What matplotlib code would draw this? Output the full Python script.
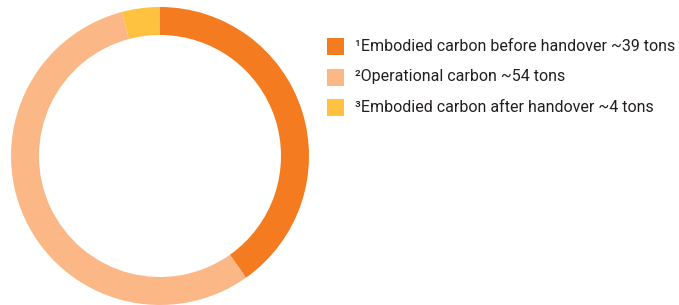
import matplotlib
matplotlib.use("Agg")
import matplotlib.pyplot as plt
from matplotlib.patches import Rectangle

labels = ["¹Embodied carbon before handover ~39 tons",
          "²Operational carbon ~54 tons",
          "³Embodied carbon after handover ~4 tons"]
values = [39, 54, 4]
colors = ["#F47B20", "#FBB886", "#FFC240"]

W, H = 679, 305
fig = plt.figure(figsize=(W/100, H/100), dpi=100)
ax = fig.add_axes([11/W, 0/H, 298/W, 298/H])
ax.pie(values, colors=colors, startangle=90, counterclock=False, radius=1,
       wedgeprops=dict(width=28/149, linewidth=0))
ax.set_xlim(-1, 1)
ax.set_ylim(-1, 1)
ax.set_aspect('equal')
ax.axis('off')

font = ['Roboto', 'DejaVu Sans']
y0, dy = 46.5, 30.5
texts = []
for i, (lab, c) in enumerate(zip(labels, colors)):
    yc = y0 + i*dy
    fig.patches.append(Rectangle((327/W, 1 - (yc+8.5)/H), 17/W, 17/H,
                                 transform=fig.transFigure, facecolor=c,
                                 edgecolor='none'))
    texts.append(fig.text(355/W, 1 - yc/H, lab, ha='left', va='center',
                          fontsize=12, color='#231F20', family=font))

# fit first line width to the reference (~320 px)
r = fig.canvas.get_renderer()
w = texts[0].get_window_extent(r).width
fs = 12 * 320 / w
for t in texts:
    t.set_fontsize(fs)

fig.savefig("out.png", dpi=100)
